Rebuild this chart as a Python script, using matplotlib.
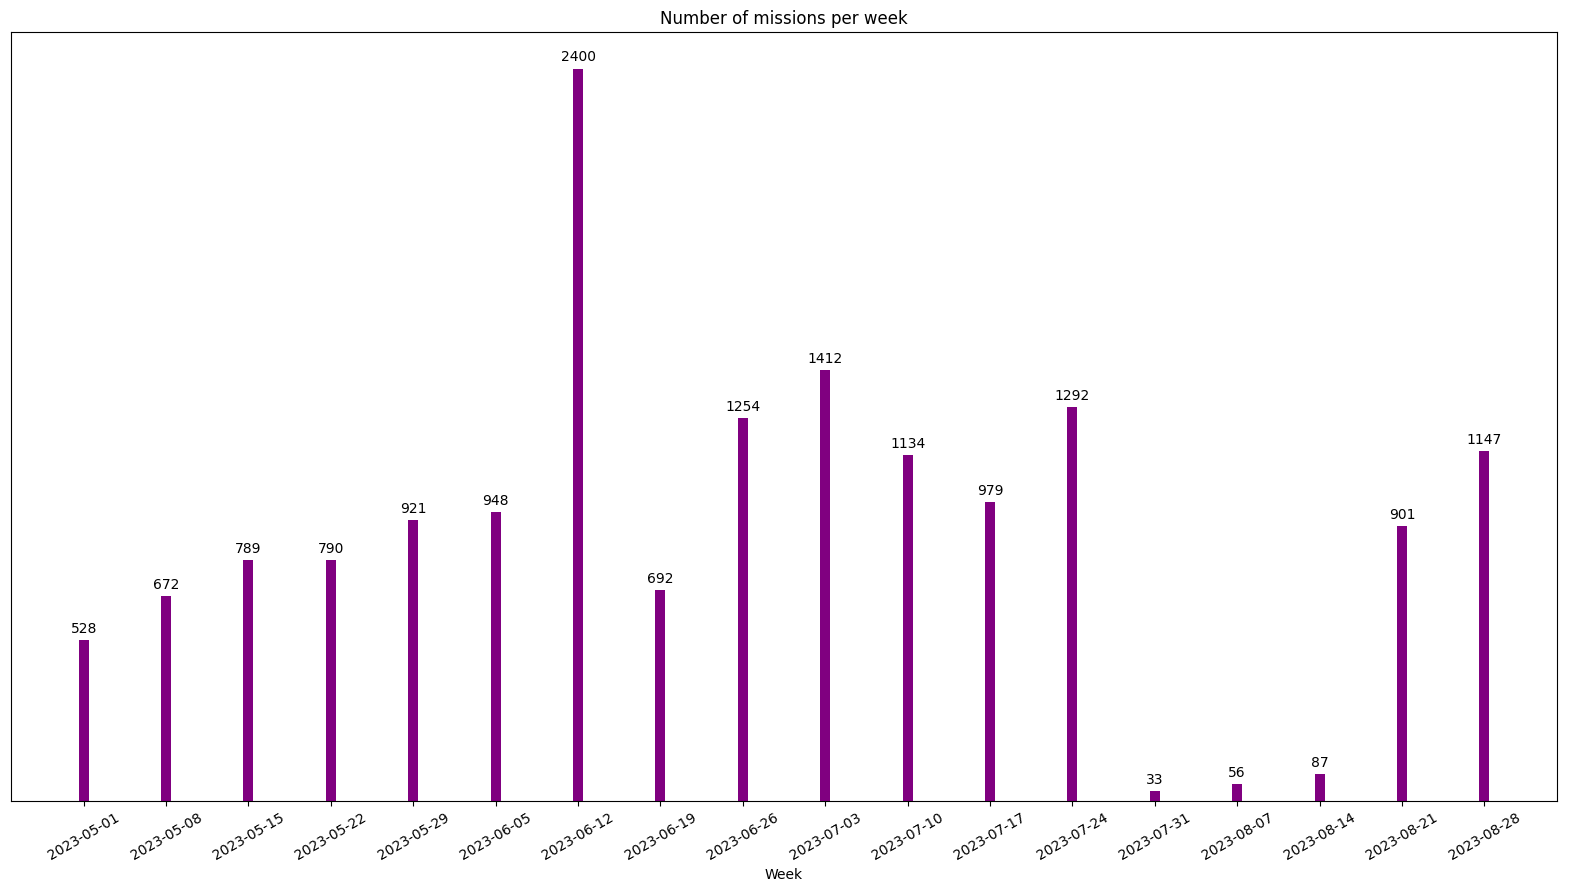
import matplotlib
matplotlib.use("Agg")
import matplotlib.pyplot as plt
import pandas as pd

weeks = ["2023-05-01", "2023-05-08", "2023-05-15", "2023-05-22", "2023-05-29",
         "2023-06-05", "2023-06-12", "2023-06-19", "2023-06-26", "2023-07-03",
         "2023-07-10", "2023-07-17", "2023-07-24", "2023-07-31", "2023-08-07",
         "2023-08-14", "2023-08-21", "2023-08-28"]
missions = [528, 672, 789, 790, 921, 948, 2400, 692, 1254, 1412,
            1134, 979, 1292, 33, 56, 87, 901, 1147]

dates = pd.to_datetime(weeks)

fig, ax = plt.subplots(figsize=(15.7, 8.93), dpi=100)
bars = ax.bar(dates, missions, color="purple", width=0.85)
for d, v in zip(dates, missions):
    ax.annotate(str(v), (d, v), xytext=(0, 3), textcoords="offset points",
                ha="center", va="bottom", fontsize=10)
ax.margins(x=0.048)
ax.set_xticks(dates)
ax.set_xticklabels(weeks, rotation=30)
ax.set_yticks([])
ax.set_xlabel("Week")
ax.set_title("Number of missions per week")
fig.subplots_adjust(left=11/1570, right=1557/1570, top=1-32/893, bottom=1-801/893)
fig.savefig("out.png", dpi=100)
